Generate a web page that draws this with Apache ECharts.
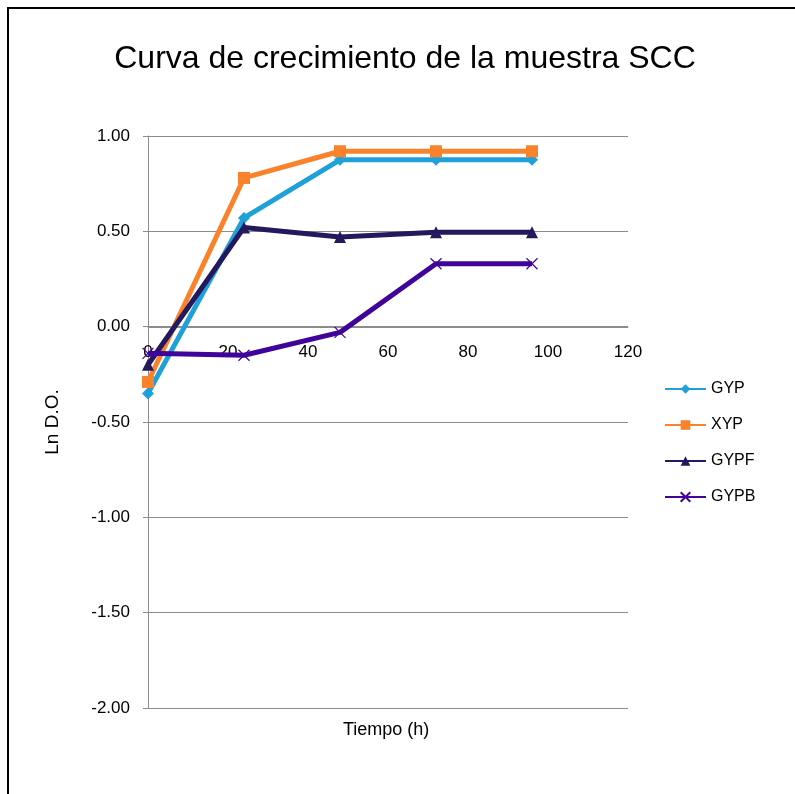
<!DOCTYPE html>
<html>
<head>
<meta charset="utf-8">
<script src="https://cdn.jsdelivr.net/npm/echarts@6/dist/echarts.min.js"></script>
<style>
  html, body { margin: 0; padding: 0; background: #fff; }
  #chart { width: 795px; height: 794px; }
</style>
</head>
<body>
<div id="chart"></div>
<script>
/*数据*/
var tiempo = [0, 24, 48, 72, 96];
var gyp  = [-0.35, 0.57, 0.875, 0.875, 0.875];
var xyp  = [-0.29, 0.78, 0.92, 0.92, 0.92];
var gypf = [-0.20, 0.52, 0.47, 0.495, 0.495];
var gypb = [-0.14, -0.15, -0.03, 0.33, 0.33];

function pares(ys) {
    var out = [];
    for (var i = 0; i < tiempo.length; i++) {
        out.push([tiempo[i], ys[i]]);
    }
    return out;
}

var fuente = "Liberation Sans";

function serie(nombre, ys, color, simbolo, tam) {
    return {
        name: nombre,
        type: "line",
        data: pares(ys),
        symbol: simbolo,
        symbolSize: tam,
        showAllSymbol: true,
        lineStyle: { color: color, width: 5 },
        itemStyle: { color: color },
        z: 3
    };
}

var chart = echarts.init(document.getElementById('chart'));
chart.setOption({
    animation: false,
    backgroundColor: "#fff",
    title: {
        text: "Curva de crecimiento de la muestra SCC",
        left: 400,
        textAlign: "center",
        top: 38,
        textStyle: { fontFamily: fuente, fontSize: 32, fontWeight: "normal", color: "#000" }
    },
    legend: {
        orient: "vertical",
        left: 659,
        top: 376,
        itemWidth: 41,
        itemHeight: 12,
        itemGap: 20,
        textStyle: { fontFamily: fuente, fontSize: 16, color: "#000" },
        data: ["GYP", "XYP", "GYPF", "GYPB"]
    },
    grid: { left: 148, right: 167, top: 136, bottom: 86 },
    xAxis: {
        type: "value",
        min: 0,
        max: 120,
        interval: 20,
        // onZero no funciona aquí: se sube el eje hasta y = 0
        offset: -381,
        axisLine: { onZero: false, lineStyle: { color: "#8c8c8c", width: 1 } },
        axisTick: { show: false },
        axisLabel: { fontFamily: fuente, fontSize: 17, color: "#000", margin: 17 },
        splitLine: { show: false }
    },
    yAxis: {
        type: "value",
        min: -2,
        max: 1,
        interval: 0.5,
        name: "Ln D.O.",
        nameLocation: "middle",
        nameRotate: 90,
        nameGap: 86,
        nameTextStyle: { fontFamily: fuente, fontSize: 19, color: "#000" },
        axisLine: { show: true, onZero: false, lineStyle: { color: "#8c8c8c", width: 1 } },
        axisTick: { show: true, length: 5, lineStyle: { color: "#8c8c8c" } },
        axisLabel: {
            fontFamily: fuente, fontSize: 17, color: "#000", margin: 18,
            formatter: function (v) { return v.toFixed(2); }
        },
        splitLine: { lineStyle: { color: "#8c8c8c", width: 1 } }
    },
    graphic: [
        {
            type: "rect",
            shape: { x: 8, y: 8, width: 800, height: 800 },
            style: { fill: "none", stroke: "#000", lineWidth: 2 },
            z: -1
        },
        {
            type: "text",
            left: 343,
            top: 721,
            style: { text: "Tiempo (h)", fontFamily: fuente, fontSize: 18, fill: "#000" }
        }
    ],
    series: [
        serie("GYP", gyp, "#1fa0d8", "diamond", 12),
        serie("XYP", xyp, "#f9822a", "rect", 12),
        serie("GYPF", gypf, "#24185e", "triangle", 12),
        {
            name: "GYPB",
            type: "line",
            data: pares(gypb),
            symbol: "path://M0,0L10,10M10,0L0,10",
            symbolSize: 11,
            showAllSymbol: true,
            lineStyle: { color: "#40049b", width: 5 },
            itemStyle: { color: "#40049b", borderColor: "#40049b", borderWidth: 1.2 },
            z: 3
        }
    ]
});
</script>
</body>
</html>
